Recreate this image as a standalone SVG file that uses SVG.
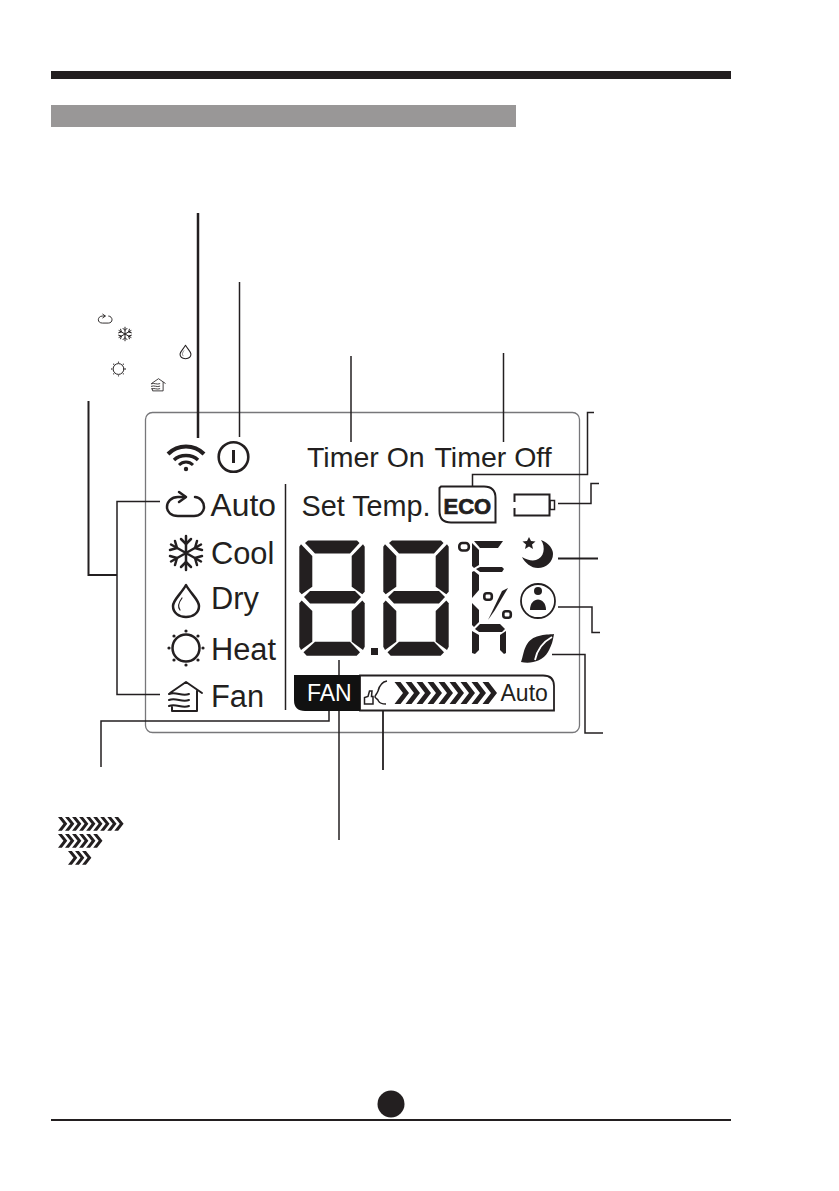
<svg xmlns="http://www.w3.org/2000/svg" width="839" height="1191" viewBox="0 0 839 1191">
<style>
text{font-family:"Liberation Sans",Arial,sans-serif;fill:#231f20}
.c{fill:none;stroke:#231f20;stroke-width:1.5}
.k{fill:#231f20}
.o{fill:none;stroke:#231f20;stroke-width:2.500;stroke-linecap:round;stroke-linejoin:round}
</style>
<defs>
<g id="digit" class="k">
<polygon points="9,-0.500 58,-0.500 60.500,2 51,12.500 16,12.500 6,2"/>
<polygon points="0.300,5.700 2,3.300 13.300,15 13.300,45.700 2.700,53.300 0.300,50.700"/>
<polygon points="65.700,5.700 64,3.300 52.700,15 52.700,45.700 63.300,53.300 65.700,50.700"/>
<polygon points="5,56 11,50 56,50 62,56 56,62.500 11,62.500"/>
<polygon points="0.300,62.300 2.700,59.500 13.300,70 13.300,100.700 2,109 0.300,105.700"/>
<polygon points="65.700,62.300 63.300,59.500 52.700,70 52.700,100.700 64,109 65.700,105.700"/>
<polygon points="4.500,111.300 16,100.700 51,100.700 61,111.300 57.700,114.700 7.700,114.700"/>
</g>
<polygon id="chev" points="0,0 6,0 14.500,11 6,22 0,22 8.500,11" class="k"/>
<g id="chev3"><use href="#chev"/><use href="#chev" x="11"/><use href="#chev" x="22"/></g>
<g id="ico-auto" class="o"><path d="M185,497 H178 C171,497 167,502 167,507 C167,512 171,516 178,516 H194 C200,516 204,512 204,507 C204,502 200,497 195,497"/><path d="M179,492 L186,497 L179,502"/></g>
<g id="ico-snow" class="o"><path d="M186,536 V570 M171,544.500 L201,561.500 M171,561.500 L201,544.500"/>
<path d="M181,539 L186,544 L191,539 M181,567 L186,562 L191,567 M170,550 L177,548 L175,541 M202,556 L195,558 L197,565 M170,556 L177,558 L175,565 M202,550 L195,548 L197,541"/></g>
<g id="ico-drop" class="o"><path d="M186,585 C181,594 173,600 173,606 C173,613 179,617 186,617 C193,617 199,613 199,606 C199,600 191,594 186,585 Z"/><path d="M182,598 C179,602 177,606 180,610" stroke-width="1.200"/></g>
<g id="ico-sun"><circle cx="186" cy="648" r="13.500" class="o"/><g class="k"><circle cx="186" cy="631" r="1.600"/><circle cx="186" cy="665" r="1.600"/><circle cx="169" cy="648" r="1.600"/><circle cx="203" cy="648" r="1.600"/><circle cx="174" cy="636" r="1.600"/><circle cx="198" cy="636" r="1.600"/><circle cx="174" cy="660" r="1.600"/><circle cx="198" cy="660" r="1.600"/></g></g>
<g id="ico-fan" class="o"><path d="M170,693 L186,682 L202,693 M197,691 V711 H172 V707 M169,694 C176,691 182,697 189,694 M169,700 C176,697 182,703 189,700 M169,706 C176,703 182,709 189,706" stroke-width="2"/></g>
</defs>

<g id="page">
<rect x="51" y="71" width="680" height="8" fill="#231f20"/>
<rect x="51" y="105" width="465" height="22" fill="#999797"/>
<rect x="51" y="1119" width="680" height="2" fill="#231f20"/>
<circle cx="391" cy="1104" r="13.500" fill="#231f20"/>
</g>

<g id="panel"><rect x="145.500" y="412.500" width="434" height="320" rx="7" fill="none" stroke="#77777a" stroke-width="1.300"/>
<line x1="285.500" y1="484" x2="285.500" y2="710" class="c"/></g>

<g id="connectors">
<line x1="198" y1="213" x2="198" y2="438" class="c" style="stroke-width:2.500"/>
<line x1="239.500" y1="282" x2="239.500" y2="437" class="c"/>
<line x1="351" y1="356" x2="351" y2="442" class="c"/>
<line x1="503.500" y1="353" x2="503.500" y2="442" class="c"/>
<path d="M88.500,401 V575 H117" class="c" style="stroke-width:2"/>
<path d="M160,501.500 H117 V694.500 H160" class="c"/>
<path d="M101,767 V721 H329 V711" class="c"/>
<line x1="383" y1="702" x2="383" y2="770" class="c" style="stroke-width:1.800"/>
<line x1="339" y1="660" x2="339" y2="840" class="c"/>
<path d="M472.500,486 V474.500 H587.500 V412.500 H594" class="c"/>
<path d="M558,503.500 H591 V483.500 H599" class="c"/>
<line x1="558" y1="558.500" x2="598" y2="558.500" class="c" style="stroke-width:2"/>
<path d="M558,607 H592 V632.500 H600" class="c"/>
<path d="M552,654.500 H585 V733 H603" class="c"/>
</g>

<g id="legend-icons">
<use href="#ico-auto" transform="translate(105,319) scale(0.37) translate(-185,-505)"/>
<use href="#ico-snow" transform="translate(125,334) scale(0.4) translate(-186,-553)"/>
<use href="#ico-drop" transform="translate(185.500,352) scale(0.42) translate(-186,-601)"/>
<use href="#ico-sun" transform="translate(118.500,369) scale(0.4) translate(-186,-648)"/>
<use href="#ico-fan" transform="translate(158.500,385) scale(0.42) translate(-186,-697)"/>
</g>

<g id="wifi"><g fill="none" stroke="#231f20"><path d="M168,454 C178,444 194,444 204,454" stroke-width="4"/><path d="M174,460 C180,454 192,454 198,460" stroke-width="3.400"/><path d="M179,465 C183,461 189,461 193,465" stroke-width="3"/></g><circle cx="186" cy="469" r="2.200" class="k"/></g>
<g id="power"><circle cx="233.500" cy="457" r="14.800" fill="none" stroke="#231f20" stroke-width="2.600"/><rect x="232" y="450" width="3" height="13" class="k"/></g>

<g id="timer-on"><text x="307" y="467" font-size="28.500">Timer On</text></g>
<g id="timer-off"><text x="434.500" y="467" font-size="28.500">Timer Off</text></g>
<g id="set-temp"><text x="301.500" y="516" font-size="28.800">Set Temp.</text></g>

<g id="mode-auto"><use href="#ico-auto"/><text x="210.500" y="516" font-size="31.800">Auto</text></g>
<g id="mode-cool"><use href="#ico-snow"/><text x="211" y="563.500" font-size="30.800">Cool</text></g>
<g id="mode-dry"><use href="#ico-drop"/><text x="211" y="609" font-size="30.800">Dry</text></g>
<g id="mode-heat"><use href="#ico-sun"/><text x="211" y="660" font-size="30.800">Heat</text></g>
<g id="mode-fan"><use href="#ico-fan"/><text x="211" y="707" font-size="30.800">Fan</text></g>

<g id="eco"><path d="M441,486.500 H484 Q495.500,486.500 495.500,498 V522.500 H451 Q439.500,522.500 439.500,511 V488 Z" fill="none" stroke="#231f20" stroke-width="2"/><text x="443.500" y="513.500" font-size="22" font-weight="700" stroke="#231f20" stroke-width="0.700">ECO</text></g>
<g id="battery"><path d="M514.500,502 V494.500 H549.500 V515.500 H514.500 V508" fill="none" stroke="#231f20" stroke-width="2"/><rect x="550" y="500.500" width="4.500" height="9" fill="none" stroke="#231f20" stroke-width="1.500"/></g>

<g id="display">
<use href="#digit" x="299" y="541"/>
<use href="#digit" x="383" y="541"/>
<rect x="371" y="648" width="7" height="7" class="k"/>
<rect x="459.300" y="543" width="9.500" height="7.500" rx="3" fill="none" stroke="#231f20" stroke-width="2.600"/>
<g class="k">
<polygon points="474,541 503,541 498,548 480,548"/>
<polygon points="472,543 479,550 479,565 474,568 472,566"/>
<polygon points="476,569 480,567 502,567 504,569 502,572 480,572"/>
<polygon points="472,572 474,571 479,575 479,590 472,598"/>
<polygon points="472,603 479,610 479,622 474,627 472,625"/>
<polygon points="475,629 480,624 500,624 505,629 502,632 479,632"/>
<polygon points="472,631 479,635 479,650 475,654 472,653"/>
<polygon points="506,631 500,635 500,650 504,654 506,653"/>
<polygon points="508,588 502,591 488,620 495,610"/>
</g>
<rect x="484.300" y="593.300" width="7.500" height="6.500" rx="2.500" fill="none" stroke="#231f20" stroke-width="2.600"/>
<rect x="503.300" y="611.300" width="7.500" height="6.500" rx="2.500" fill="none" stroke="#231f20" stroke-width="2.600"/>
</g>

<g id="moon"><path d="M541,540 C549,543 553,549 553,554 C553,562 546,568 538,568 C531,568 525,563 522,557 C527,560 532,561 536,560 C544,558 546,547 541,540 Z" class="k"/><polygon points="529,537 531,541 535.500,541.500 532,544.500 533,549 529,546.500 525,549 526,544.500 522.500,541.500 527,541" class="k"/></g>
<g id="person"><circle cx="538" cy="601" r="17" fill="none" stroke="#231f20" stroke-width="1.800"/><circle cx="538" cy="591" r="4" class="k"/><path d="M530,610 C530,596 546,596 546,610 Z" class="k"/></g>
<g id="leaf"><path d="M554,634 C545,635 532,634 526,646 C523,652 523,657 521,662 C530,664 542,662 548,652 C552,645 553,640 554,634 Z" class="k"/><path d="M552,637 C543,642 537,650 535,660" fill="none" stroke="#fff" stroke-width="1.800"/></g>

<g id="fan-band">
<path d="M360,675.500 H543 Q554,675.500 554,686 V710.500 H360 Z" fill="#fff" stroke="#231f20" stroke-width="1.800"/>
<path d="M294,675 H360 V711 H305 Q294,711 294,700 Z" fill="#111"/>
<text x="307" y="700.500" font-size="23" style="fill:#fff">FAN</text>
<path d="M364.500,704 V697.500 L368,696.500 L369.500,691 L372,691 L371.500,696.500 H373 V704 Z" fill="none" stroke="#231f20" stroke-width="1.500"/>
<path d="M387,681 C381,682 379,687 378,691 C377,694 375,695 375,697 C376,699 378,699 378.500,701 C379.500,703 382,704 386,704" fill="none" stroke="#231f20" stroke-width="1.500"/>
<use href="#chev3" x="394.500" y="682"/><use href="#chev3" x="427.500" y="682"/><use href="#chev3" x="460.500" y="682"/>
<text x="500.500" y="700.500" font-size="23">Auto</text>
</g>

<g id="speed-legend">
<g transform="translate(58,817) scale(0.64,0.62)"><use href="#chev3"/><use href="#chev3" x="33"/><use href="#chev3" x="66"/></g>
<g transform="translate(58,834) scale(0.64,0.62)"><use href="#chev3"/><use href="#chev3" x="33"/></g>
<g transform="translate(68,851) scale(0.64,0.62)"><use href="#chev3"/></g>
</g>
</svg>
